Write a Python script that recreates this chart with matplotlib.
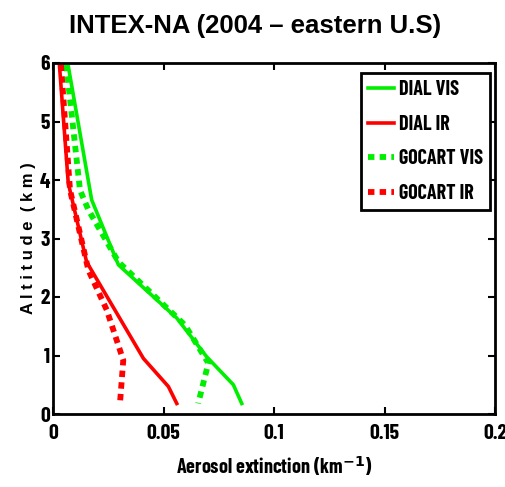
import matplotlib
matplotlib.use("Agg")
import matplotlib.pyplot as plt

# Aerosol extinction profiles (km^-1) versus altitude (km)
dial_vis_alt = [5.95, 3.66, 2.55, 1.64, 0.98, 0.50, 0.18]
dial_vis_ext = [0.0069, 0.0175, 0.0296, 0.0560, 0.0695, 0.0816, 0.0854]

dial_ir_alt = [5.97, 3.95, 2.60, 0.95, 0.47, 0.18]
dial_ir_ext = [0.0029, 0.0069, 0.0152, 0.0409, 0.0522, 0.0560]

gocart_vis_alt = [5.97, 3.83, 3.49, 2.60, 1.52, 0.87, 0.18]
gocart_vis_ext = [0.0060, 0.0122, 0.0160, 0.0296, 0.0597, 0.0703, 0.0657]

gocart_ir_alt = [5.97, 3.83, 2.46, 1.78, 0.92, 0.18]
gocart_ir_ext = [0.0036, 0.0077, 0.0160, 0.0243, 0.0318, 0.0303]

x_ticks = [0, 0.05, 0.1, 0.15, 0.2]
x_tick_labels = ["0", "0.05", "0.1", "0.15", "0.2"]
y_ticks = [0, 1, 2, 3, 4, 5, 6]

narrow = ["Barlow Condensed", "DejaVu Sans"]
wide = ["Liberation Sans", "DejaVu Sans"]

fig = plt.figure(figsize=(5.05, 4.87), dpi=100)
ax = fig.add_axes([53 / 505, 1 - 414 / 487, 442 / 505, 351 / 487])

green = "#00ee00"
red = "#ff0000"
ax.plot(dial_vis_ext, dial_vis_alt, color=green, lw=2.6, label="DIAL VIS")
ax.plot(dial_ir_ext, dial_ir_alt, color=red, lw=2.6, label="DIAL IR")
ax.plot(gocart_vis_ext, gocart_vis_alt, color=green, lw=4.2, ls=(0, (1.1, 0.9)),
        label="GOCART VIS")
ax.plot(gocart_ir_ext, gocart_ir_alt, color=red, lw=4.2, ls=(0, (1.1, 0.9)),
        label="GOCART IR")

ax.set_xlim(0, 0.2)
ax.set_ylim(0, 6)
ax.set_xticks(x_ticks)
ax.set_xticklabels(x_tick_labels)
ax.set_yticks(y_ticks)
ax.tick_params(direction="in", length=5, width=1.5, labelsize=15.5,
               top=True, right=True)
ax.tick_params(axis="x", pad=7)
ax.tick_params(axis="y", pad=2)
for lab in ax.get_xticklabels() + ax.get_yticklabels():
    lab.set_fontfamily(narrow)
    lab.set_fontweight("bold")
for s in ax.spines.values():
    s.set_linewidth(2)

ax.set_xlabel("Aerosol extinction (km$^{\\mathbf{-1}}$)", fontsize=14.5,
              fontfamily=narrow, fontweight="bold", labelpad=8)
ax.set_ylabel("A l t i t u d e  ( k m )", fontsize=12, fontfamily=wide,
              fontweight="bold", labelpad=3)

leg = ax.legend(loc="upper right", bbox_to_anchor=(0.989, 0.972), fancybox=False,
                edgecolor="black", framealpha=1, handlelength=1.3,
                handletextpad=0.25, borderpad=0.35, labelspacing=0.78,
                borderaxespad=0.0,
                prop={"family": narrow, "weight": "bold", "size": 14.5})
leg.get_frame().set_linewidth(2)

fig.text(255 / 505, 1 - 26 / 487, "INTEX-NA (2004 \u2013 eastern U.S)",
         ha="center", va="center", fontsize=18.5, fontweight="bold",
         fontfamily=wide)

fig.savefig("out.png", dpi=100)
